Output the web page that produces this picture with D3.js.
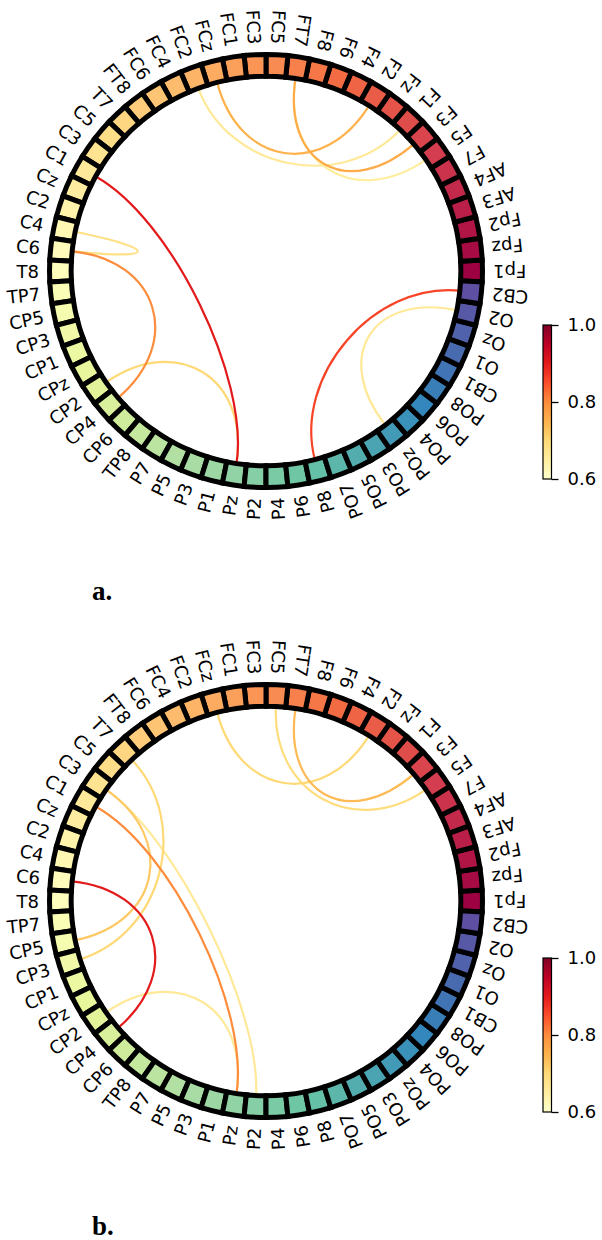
<!DOCTYPE html>
<html>
<head>
<meta charset="utf-8">
<script src="https://d3js.org/d3.v7.min.js"></script>
<style>
  body { margin: 0; background: #fff; }
  text { font-family: "DejaVu Sans", sans-serif; }
</style>
</head>
<body>
<div id="chart"></div>
<script>

// channel names, counter-clockwise starting at the right (3 o'clock)
var channels = ["Fp1","Fpz","Fp2","AF3","AF4","F7","F5","F3","F1","Fz","F2","F4","F6","F8",
  "FT7","FC5","FC3","FC1","FCz","FC2","FC4","FC6","FT8","T7","C5","C3","C1","Cz","C2","C4","C6","T8",
  "TP7","CP5","CP3","CP1","CPz","CP2","CP4","CP6","TP8","P7","P5","P3","P1","Pz","P2","P4","P6","P8",
  "PO7","PO5","PO3","POz","PO4","PO6","PO8","CB1","O1","Oz","O2","CB2"];

// panel a connections
var sourceA = ["FC2","FT7","O2","C4","CP2","FCz","FT7","C6","CB2","C1"];
var targetA = ["F1","F5","POz","C6","Pz","F2","F3","CP4","P8","Pz"];
var valueA  = [0.66, 0.65, 0.66, 0.68, 0.70, 0.75, 0.76, 0.80, 0.86, 0.90];

// panel b connections
var sourceB = ["C3","CP2","FC5","FCz","T7","C3","FT7","C1","C6"];
var targetB = ["P2","Pz","F5","F2","CP3","CP5","F3","Pz","CP4"];
var valueB  = [0.66, 0.66, 0.69, 0.70, 0.70, 0.72, 0.74, 0.80, 0.90];

// colour bar ticks
var cbTicks = [0.6, 0.8, 1.0];

// colormaps (matplotlib style, linear between ColorBrewer stops)
var spectral = ["#9e0142","#d53e4f","#f46d43","#fdae61","#fee08b","#ffffbf",
                "#e6f598","#abdda4","#66c2a5","#3288bd","#5e4fa2"];
var ylorrd = ["#ffffcc","#ffeda0","#fed976","#feb24c","#fd8d3c","#fc4e2a",
              "#e31a1c","#bd0026","#800026"];

var W = 602, H = 1240;
var svg = d3.select("#chart").append("svg")
    .attr("width", W)
    .attr("height", H);

var n = channels.length;
var nodeColor = d3.scaleLinear()
    .domain(spectral.map(function (c, i) { return i / (spectral.length - 1); }))
    .range(spectral);
var conColor = d3.scaleLinear()
    .domain(ylorrd.map(function (c, i) { return 0.6 + 0.4 * i / (ylorrd.length - 1); }))
    .range(ylorrd)
    .clamp(true);

// math angle (ccw from east) and radial scale in "ring units" (ring from 9 to 10)
var angle = d3.scaleLinear().domain([0, n]).range([0, 2 * Math.PI]);
var radius = d3.scaleLinear().domain([0, 10]).range([0, 216.5]);
var cx = 266;

var defs = svg.append("defs");
var grad = defs.append("linearGradient")
    .attr("id", "cbgrad")
    .attr("x1", 0).attr("y1", 1).attr("x2", 0).attr("y2", 0);
ylorrd.forEach(function (c, i) {
    grad.append("stop")
        .attr("offset", i / (ylorrd.length - 1))
        .attr("stop-color", c);
});

function drawPanel(cy, sources, targets, values, letter, letterY, cbTop, cbBottom) {
    var g = svg.append("g");

    function pos(theta, r) {
        return [cx + r * Math.cos(theta), cy - r * Math.sin(theta)];
    }

    // connections, weakest first
    var links = sources.map(function (s, k) {
        return { s: channels.indexOf(s), t: channels.indexOf(targets[k]), v: values[k] };
    }).sort(function (a, b) { return a.v - b.v; });

    g.selectAll("path.link")
        .data(links)
        .enter()
        .append("path")
        .attr("class", "link")
        .attr("d", function (d) {
            var t0 = angle(d.s), t1 = angle(d.t);
            var p0 = pos(t0, radius(9)), p1 = pos(t0, radius(5)),
                p2 = pos(t1, radius(5)), p3 = pos(t1, radius(9));
            return "M" + p0 + "C" + p1 + " " + p2 + " " + p3;
        })
        .style("fill", "none")
        .style("stroke", function (d) { return conColor(d.v); })
        .style("stroke-width", 2.2);

    // ring of nodes
    var step = 2 * Math.PI / n;
    var arc = d3.arc()
        .innerRadius(radius(9))
        .outerRadius(radius(10))
        .startAngle(function (i) { return Math.PI / 2 - angle(i) - step / 2; })
        .endAngle(function (i) { return Math.PI / 2 - angle(i) + step / 2; });

    g.append("g")
        .attr("transform", "translate(" + cx + "," + cy + ")")
        .selectAll("path")
        .data(d3.range(n))
        .enter()
        .append("path")
        .attr("d", arc)
        .style("fill", function (i) { return nodeColor(i / (n - 1)); })
        .style("stroke", "black")
        .style("stroke-width", 5)
        .style("stroke-linejoin", "miter");

    // node labels
    g.selectAll("text.lab")
        .data(channels)
        .enter()
        .append("text")
        .attr("class", "lab")
        .attr("transform", function (d, i) {
            var p = pos(angle(i), 227);
            var deg = angle(i) * 180 / Math.PI;
            return "translate(" + p[0] + "," + p[1] + ") rotate(" + (-(deg + 180)) + ")";
        })
        .attr("text-anchor", "end")
        .attr("dominant-baseline", "central")
        .style("font-size", "18px")
        .style("fill", "black")
        .text(function (d) { return d; });

    // colour bar
    var y = d3.scaleLinear().domain([0.6, 1.0]).range([cbBottom, cbTop]);
    g.append("rect")
        .attr("x", 543)
        .attr("y", cbTop)
        .attr("width", 8.5)
        .attr("height", cbBottom - cbTop)
        .style("fill", "url(#cbgrad)")
        .style("stroke", "black")
        .style("stroke-width", 1.2);

    var ax = g.append("g")
        .attr("transform", "translate(551.5,0)")
        .call(d3.axisRight(y).tickValues(cbTicks).tickSize(7).tickPadding(9)
            .tickFormat(d3.format(".1f")));
    ax.select(".domain").remove();
    ax.selectAll("line").style("stroke", "black").style("stroke-width", 1.3);
    ax.selectAll("text")
        .style("font-family", "DejaVu Sans, sans-serif")
        .style("font-size", "18px")
        .style("fill", "black");

    // panel letter
    g.append("text")
        .attr("x", 92)
        .attr("y", letterY)
        .style("font-family", "'Liberation Serif', serif")
        .style("font-weight", "bold")
        .style("font-size", "27px")
        .text(letter);
}

drawPanel(271, sourceA, targetA, valueA, "a.", 600, 325, 479);
drawPanel(901, sourceB, targetB, valueB, "b.", 1235, 958, 1112);

</script>
</body>
</html>
